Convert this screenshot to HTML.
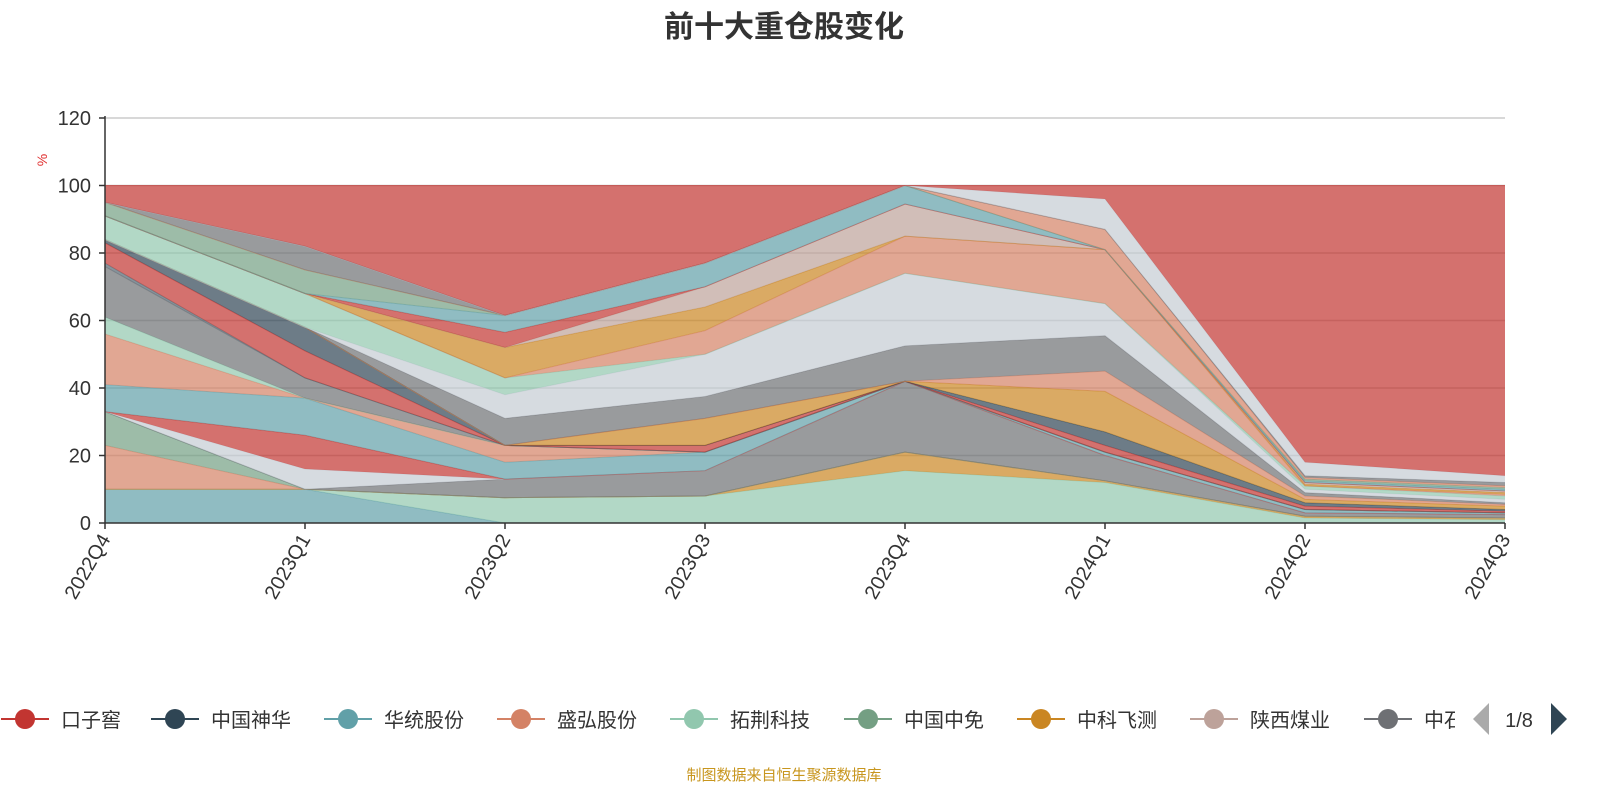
<!DOCTYPE html>
<html><head><meta charset="utf-8">
<style>
html,body{margin:0;padding:0;background:#fff;}
svg{display:block;font-family:"Liberation Sans","Noto Sans CJK SC",sans-serif;}
</style></head>
<body>
<svg id="chart" width="1600" height="800" viewBox="0 0 1600 800" xmlns="http://www.w3.org/2000/svg">
<text x="784" y="37" text-anchor="middle" font-size="30" font-weight="bold" fill="#333">前十大重仓股变化</text>
<g id="grid"></g>
<g id="areas"></g>
<g id="axes"></g>
<text x="0" y="0" font-size="14" fill="#e03030" transform="translate(47,160) rotate(-90)" text-anchor="middle">%</text>
<g id="legend"></g>
<text x="1472" y="730" font-size="1" fill="none"></text>
<polygon points="1489,703 1489,735 1473,719" fill="#aaa"/>
<text x="1519" y="727" text-anchor="middle" font-size="20" fill="#333">1/8</text>
<polygon points="1551,703 1551,735 1567,719" fill="#2f4554"/>
<text x="784" y="780" text-anchor="middle" font-size="15" fill="#c8961e">制图数据来自恒生聚源数据库</text>
</svg>
<script>
const categories=["2022Q4","2023Q1","2023Q2","2023Q3","2023Q4","2024Q1","2024Q2","2024Q3"];
const yTicks=[0,20,40,60,80,100,120];
const legendNames=["口子窖","中国神华","华统股份","盛弘股份","拓荆科技","中国中免","中科飞测","陕西煤业","中石油"];
const legendColors=["#c23531","#2f4554","#61a0a8","#d48265","#91c7ae","#749f83","#ca8622","#bda29a","#6e7074"];
const s1=[10,10,0,0,0,0,0,0];
const s2=[0,0,7.5,8,15.5,12,1.5,1];
const s3=[0,0,0,0,5.5,0.5,0.5,0.5];
const s4=[13,0,0,0,0,0,0,0];
const s5=[10,0,0,0,0,0,0,0];
const s6=[0,0,5.5,7.5,21,7.5,1,1];
const s7=[0,6,0,0,0,0,0,0];
const s8=[0,10,0,0,0,0,0,0];
const s9=[8,11,5,5.5,0,1,1,0.5];
const s10=[15,0,5,0,0,0,0,0];
const s11=[5,0,0,0,0,0,0,0];
const s12=[15,6,0,0,0,0,0,0];
const s13=[1,0,0,0,0,0,0,0];
const s14=[6,8,0,2,0,2,1,0.5];
const s15=[1,7,0,0,0,4,1,0.5];
const s16=[0,0,0,8,0,12,1,1];
const s17=[0,0,0,0,0,6,1,0.5];
const s18=[0,0,8,6.5,10.5,10.5,1,0.5];
const s19=[0,0,7,12.5,21.5,9.5,1,1];
const s20=[7,10,5,0,0,0,1,1];
const s21=[0,0,0,7,11,16,0,0.5];
const s22=[0,0,9,7,0,0,0.5,0.5];
const s23=[0,0,0,6,9.5,0,0.5,0.5];
const s24=[0,0,4.5,0,0,0,0,0];
const s25=[0,0,5,7,5.5,0,0.5,0.5];
const s26=[4,7,0,0,0,0,0.5,0.5];
const s27=[0,0,0,0,0,6,0.5,0.5];
const s28=[0,7,0,0,0,0,0.5,1];
const s29=[0,0,0,0,0,9,4,2];
const s30=[5,18,38.5,23,0,4,82,86];
const seriesList=[s1,s2,s3,s4,s5,s6,s7,s8,s9,s10,s11,s12,s13,s14,s15,s16,s17,s18,s19,s20,s21,s22,s23,s24,s25,s26,s27,s28,s29,s30];
const seriesColors=["#61a0a8","#91c7ae","#ca8622","#d48265","#749f83","#6e7074","#c4ccd3","#c23531","#61a0a8","#d48265","#91c7ae","#6e7074","#546570","#c23531","#2f4554","#ca8622","#d48265","#6e7074","#c4ccd3","#91c7ae","#d48265","#ca8622","#bda29a","#c23531","#61a0a8","#749f83","#d48265","#6e7074","#c4ccd3","#c23531"];

const NS="http://www.w3.org/2000/svg";
const X0=105,X1=1505,Y0=523,Y1=118,YMAX=120;
function xs(i){return X0+i*(X1-X0)/(categories.length-1);}
function ys(v){return Y0-(v/YMAX)*(Y0-Y1);}
function mk(tag,attrs,parent){const e=document.createElementNS(NS,tag);for(const k in attrs)e.setAttribute(k,attrs[k]);parent.appendChild(e);return e;}

const grid=document.getElementById('grid');
yTicks.forEach(t=>{
  if(t===0)return;
  const l=mk('line',{x1:X0,x2:X1,y1:ys(t),y2:ys(t),stroke:'#ccc','stroke-width':1.5},grid);
  
  
});

const areas=document.getElementById('areas');
let base=categories.map(()=>0);
seriesList.forEach((s,si)=>{
  const top=base.map((b,i)=>b+s[i]);
  let d='M'+categories.map((c,i)=>xs(i)+','+ys(top[i])).join('L');
  for(let i=categories.length-1;i>=0;i--)d+='L'+xs(i)+','+ys(base[i]);
  d+='Z';
  const p=mk('path',{d:d,fill:seriesColors[si],'fill-opacity':0.7,stroke:'none'},areas);
  
  
  const ln=mk('polyline',{points:categories.map((c,i)=>xs(i)+','+ys(top[i])).join(' '),fill:'none',stroke:seriesColors[si],'stroke-opacity':0.6,'stroke-width':1},areas);
  
  
  base=top;
});

const axes=document.getElementById('axes');
const ya=mk('line',{x1:X0,x2:X0,y1:Y1-2,y2:Y0,stroke:'#333','stroke-width':1.5},axes);


const xa=mk('line',{x1:X0,x2:X1,y1:Y0,y2:Y0,stroke:'#333','stroke-width':1.5},axes);


yTicks.forEach(t=>{
  const tk=mk('line',{x1:X0-6,x2:X0,y1:ys(t),y2:ys(t),stroke:'#333','stroke-width':1.5},axes);
  
  
  const tx=mk('text',{x:X0-14,y:ys(t)+7,'text-anchor':'end','font-size':20,fill:'#333'},axes);
  tx.textContent=t;
  
  
});
categories.forEach((c,i)=>{
  const tk=mk('line',{x1:xs(i),x2:xs(i),y1:Y0,y2:Y0+6,stroke:'#333','stroke-width':1.5},axes);
  
  
  const tx=mk('text',{x:0,y:0,'text-anchor':'end','font-size':20,fill:'#333',transform:'translate('+(xs(i)+6)+','+(Y0+16)+') rotate(-60)'},axes);
  tx.textContent=c;
  
  
});

const legend=document.getElementById('legend');
const legendX=[25,175,348,521,694,868,1041,1214,1388];
const clip=mk('clipPath',{id:'legclip'},legend);
mk('rect',{x:0,y:690,width:1455,height:60},clip);
const lg=mk('g',{'clip-path':'url(#legclip)'},legend);
legendNames.forEach((n,i)=>{
  const g=mk('g',{},lg);
  
  
  mk('line',{x1:legendX[i]-24,x2:legendX[i]+24,y1:719,y2:719,stroke:legendColors[i],'stroke-width':2},g);
  mk('circle',{cx:legendX[i],cy:719,r:10,fill:legendColors[i]},g);
  const t=mk('text',{x:legendX[i]+36,y:727,'font-size':20,fill:'#333'},g);
  t.textContent=n;
});
</script>
</body></html>
